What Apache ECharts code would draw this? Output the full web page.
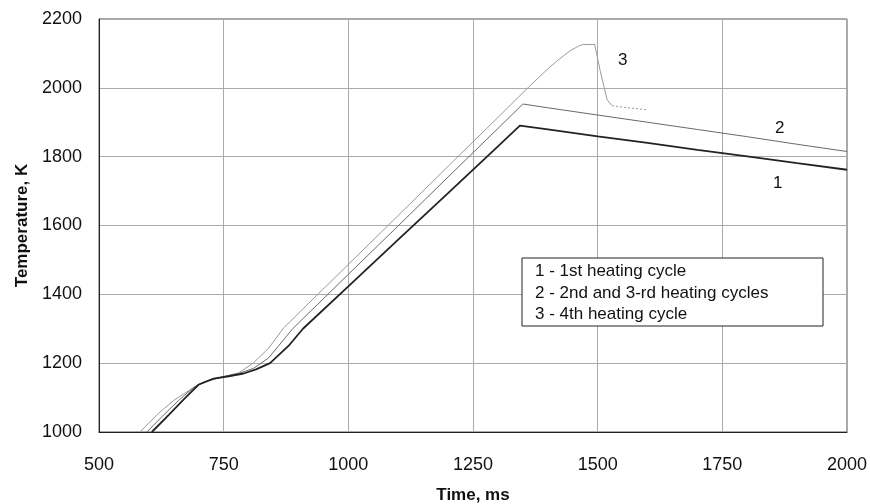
<!DOCTYPE html>
<html>
<head>
<meta charset="utf-8">
<script src="https://cdn.jsdelivr.net/npm/echarts@6/dist/echarts.min.js"></script>
<style>
  html, body { margin: 0; padding: 0; background: #fff; }
  #chart { width: 870px; height: 504px; }
</style>
</head>
<body>
<div id="chart"></div>
<script>
// values (time in ms, temperature in K)
var xTicks = [500, 750, 1000, 1250, 1500, 1750, 2000]
var yTicks = [1000, 1200, 1400, 1600, 1800, 2000, 2200]

// 1 - 1st heating cycle
var time1 = [606, 640, 670, 700, 730, 760, 790, 815, 843, 880, 909, 1000, 1100, 1200, 1300, 1344, 1400, 1500, 1600, 1700, 1800, 1900, 2000]
var temp1 = [1000, 1050, 1095, 1138, 1155, 1162, 1170, 1182, 1200, 1250, 1300, 1423, 1559, 1694, 1830, 1890, 1879, 1859, 1840, 1820, 1801, 1781, 1762]

// 2 - 2nd and 3-rd heating cycles
var time2 = [596, 630, 660, 690, 720, 750, 780, 810, 840, 889, 1000, 1100, 1200, 1300, 1350, 1400, 1500, 1600, 1700, 1800, 1900, 2000]
var temp2 = [1000, 1050, 1092, 1130, 1150, 1161, 1170, 1185, 1215, 1301, 1458, 1599, 1741, 1882, 1953, 1942, 1921, 1900, 1879, 1858, 1836, 1815]

// 3 - 4th heating cycle (solid part, then dotted tail)
var time3 = [582, 620, 650, 682, 709, 749, 780, 809, 840, 870, 1000, 1100, 1200, 1300, 1360, 1400, 1420, 1445, 1460, 1470, 1494, 1505, 1519, 1529]
var temp3 = [1000, 1055, 1092, 1122, 1145, 1160, 1172, 1200, 1243, 1302, 1487, 1629, 1772, 1914, 2000, 2055, 2080, 2108, 2120, 2126, 2126, 2050, 1965, 1948]
var time3tail = [1529, 1560, 1601]
var temp3tail = [1948, 1942, 1936]

var legendLines = ['1 - 1st heating cycle', '2 - 2nd and 3-rd heating cycles', '3 - 4th heating cycle']

function pairs(xs, ys) {
  var out = []
  for (var i = 0; i < xs.length; i++) {
    out.push([xs[i], ys[i]])
  }
  return out
}

var myChart = echarts.init(document.getElementById('chart'))
var font = 'Liberation Sans, Arial, sans-serif'

myChart.setOption({
  animation: false,
  backgroundColor: '#fff',
  grid: {
    left: 99,
    right: 23,
    top: 19,
    bottom: 72,
    outerBoundsMode: 'none',
    containLabel: false,
    show: true,
    borderColor: '#555',
    borderWidth: 1
  },
  xAxis: {
    type: 'value',
    min: xTicks[0],
    max: xTicks[xTicks.length - 1],
    interval: 250,
    name: 'Time, ms',
    nameLocation: 'middle',
    nameGap: 55,
    nameTextStyle: { fontFamily: font, fontWeight: 'bold', fontSize: 17, color: '#111' },
    axisLine: { lineStyle: { color: '#222', width: 1 } },
    axisTick: { show: false },
    axisLabel: { margin: 24, fontFamily: font, fontSize: 18, color: '#111', formatter: function (v) { return String(v) } },
    splitLine: { lineStyle: { color: '#aaa', width: 1 } }
  },
  yAxis: {
    type: 'value',
    min: yTicks[0],
    max: yTicks[yTicks.length - 1],
    interval: 200,
    name: 'Temperature, K',
    nameLocation: 'middle',
    nameGap: 68,
    nameTextStyle: { fontFamily: font, fontWeight: 'bold', fontSize: 17, color: '#111' },
    axisLine: { show: true, lineStyle: { color: '#222', width: 1 } },
    axisTick: { show: false },
    axisLabel: { margin: 17, fontFamily: font, fontSize: 18, color: '#111', formatter: function (v) { return String(v) } },
    splitLine: { lineStyle: { color: '#aaa', width: 1 } }
  },
  series: [
    {
      type: 'line',
      data: pairs(time3, temp3),
      showSymbol: false,
      lineStyle: { color: '#9a9a9a', width: 1 }
    },
    {
      type: 'line',
      data: pairs(time3tail, temp3tail),
      showSymbol: false,
      lineStyle: { color: '#9a9a9a', width: 1, type: [2, 2] }
    },
    {
      type: 'line',
      data: pairs(time2, temp2),
      showSymbol: false,
      lineStyle: { color: '#6a6a6a', width: 1 }
    },
    {
      type: 'line',
      data: pairs(time1, temp1),
      showSymbol: false,
      lineStyle: { color: '#222', width: 1.8 }
    }
  ],
  graphic: [
    // curve numbers
    { type: 'text', x: 773, y: 175, style: { text: '1', font: '17px ' + font, fill: '#111' } },
    { type: 'text', x: 775, y: 120, style: { text: '2', font: '17px ' + font, fill: '#111' } },
    { type: 'text', x: 618, y: 52, style: { text: '3', font: '17px ' + font, fill: '#111' } },
    // legend box
    {
      type: 'rect',
      shape: { x: 522, y: 258, width: 301, height: 68 },
      style: { fill: '#fff', stroke: '#222', lineWidth: 1 },
      z: 10
    },
    { type: 'text', x: 535, y: 263, z: 11, style: { text: legendLines[0], font: '17px ' + font, fill: '#111' } },
    { type: 'text', x: 535, y: 285, z: 11, style: { text: legendLines[1], font: '17px ' + font, fill: '#111' } },
    { type: 'text', x: 535, y: 306, z: 11, style: { text: legendLines[2], font: '17px ' + font, fill: '#111' } }
  ]
})
</script>
</body>
</html>
